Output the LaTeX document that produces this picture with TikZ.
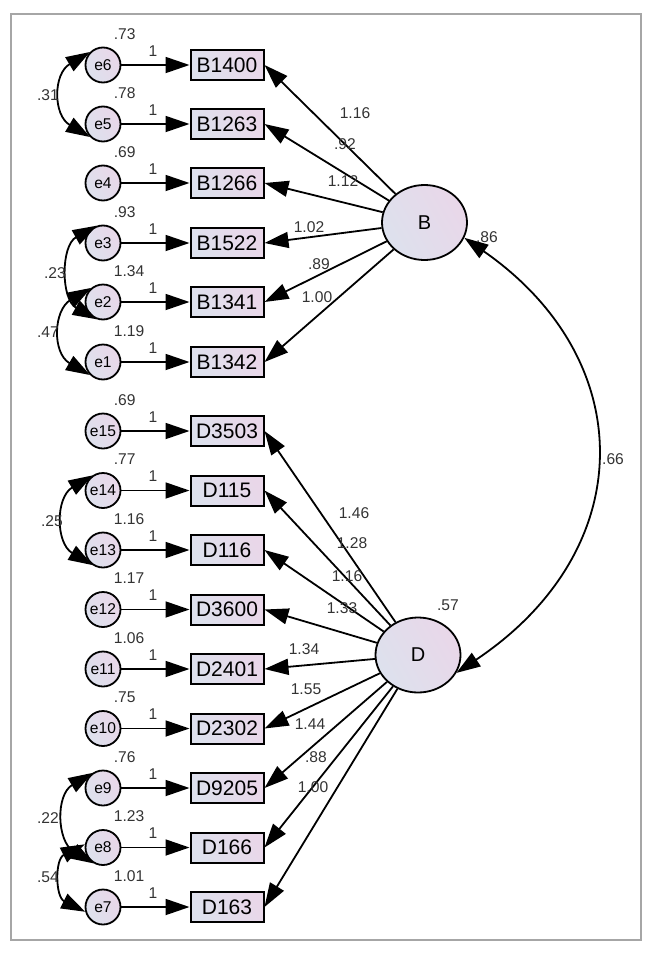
\documentclass[tikz,border=0pt]{standalone}
\usepackage{fontspec}
\setmainfont{Liberation Sans}
\usetikzlibrary{arrows.meta,shapes.geometric}
\definecolor{lavA}{RGB}{221,225,237}
\definecolor{lavB}{RGB}{233,215,233}

\begin{document}
\begin{tikzpicture}[x=0.5pt, y=0.5pt, line width=0.9pt, >={Triangle[length=12pt, width=8pt]},
	errc/.style={circle, draw, left color=lavA, right color=lavB, shading angle=120, minimum size=17.5pt, inner sep=0pt, font=\fontsize{7.8}{8}\selectfont},
	obs/.style={rectangle, draw, line width=1pt, left color=lavA, right color=lavB, shading angle=120, minimum width=36.5pt, minimum height=15pt, inner sep=1pt, font=\fontsize{10.5}{12}\selectfont},
	lat/.style={ellipse, draw, left color=lavA, right color=lavB, shading angle=120, minimum width=42.5pt, minimum height=37.5pt, inner sep=0pt, font=\fontsize{10}{12}\selectfont},
	est/.style={font=\fontsize{7.8}{9}\selectfont, text=black!80, inner sep=0pt}]
	\useasboundingbox (0,0) rectangle (653,-953);
	\draw[gray!70, line width=0.6pt] (11,-14) rectangle (641,-940);
	% latent factors
	\node[lat] (B) at (424.5,-222.5) {B};
	\node[lat] (D) at (418,-655) {D};
	% B block
	\node[errc] (e6) at (103,-65) {e6};
	\node[errc] (e5) at (103,-124) {e5};
	\node[errc] (e4) at (103,-183) {e4};
	\node[errc] (e3) at (103,-243) {e3};
	\node[errc] (e2) at (103,-302) {e2};
	\node[errc] (e1) at (103,-362) {e1};
	\node[obs] (b1400) at (227,-65) {B1400};
	\node[obs] (b1263) at (227,-124) {B1263};
	\node[obs] (b1266) at (227,-183) {B1266};
	\node[obs] (b1522) at (227,-243) {B1522};
	\node[obs] (b1341) at (227,-302) {B1341};
	\node[obs] (b1342) at (227,-362) {B1342};
	% D block
	\node[errc] (e15) at (103,-431) {e15};
	\node[errc] (e14) at (103,-490.5) {e14};
	\node[errc] (e13) at (103,-550) {e13};
	\node[errc] (e12) at (103,-609.5) {e12};
	\node[errc] (e11) at (103,-669) {e11};
	\node[errc] (e10) at (103,-728.5) {e10};
	\node[errc] (e9) at (103,-788) {e9};
	\node[errc] (e8) at (103,-847.5) {e8};
	\node[errc] (e7) at (103,-907) {e7};
	\node[obs] (d3503) at (227,-431) {D3503};
	\node[obs] (d115) at (227,-490.5) {D115};
	\node[obs] (d116) at (227,-550) {D116};
	\node[obs] (d3600) at (227,-609.5) {D3600};
	\node[obs] (d2401) at (227,-669) {D2401};
	\node[obs] (d2302) at (227,-728.5) {D2302};
	\node[obs] (d9205) at (227,-788) {D9205};
	\node[obs] (d166) at (227,-847.5) {D166};
	\node[obs] (d163) at (227,-907) {D163};
	% error paths
	\draw[->] (e6) -- (b1400);
	\draw[->] (e5) -- (b1263);
	\draw[->] (e4) -- (b1266);
	\draw[->] (e3) -- (b1522);
	\draw[->] (e2) -- (b1341);
	\draw[->] (e1) -- (b1342);
	\draw[->] (e15) -- (d3503);
	\draw[->] (e14) -- (d115);
	\draw[->] (e13) -- (d116);
	\draw[->] (e12) -- (d3600);
	\draw[->] (e11) -- (d2401);
	\draw[->] (e10) -- (d2302);
	\draw[->] (e9) -- (d9205);
	\draw[->] (e8) -- (d166);
	\draw[->] (e7) -- (d163);
	\node[est] (w6) at (153,-51) {1};
	\node[est] (w5) at (153,-110) {1};
	\node[est] (w4) at (153,-169) {1};
	\node[est] (w3) at (153,-229) {1};
	\node[est] (w2) at (153,-288) {1};
	\node[est] (w1) at (153,-348) {1};
	\node[est] (w15) at (153,-417) {1};
	\node[est] (w14) at (153,-476.5) {1};
	\node[est] (w13) at (153,-536) {1};
	\node[est] (w12) at (153,-595.5) {1};
	\node[est] (w11) at (153,-655) {1};
	\node[est] (w10) at (153,-714.5) {1};
	\node[est] (w9) at (153,-774) {1};
	\node[est] (w8) at (153,-833.5) {1};
	\node[est] (w7) at (153,-893) {1};
	% error variances
	\node[est, anchor=west] (v6) at (113,-34) {.73};
	\node[est, anchor=west] (v5) at (113,-93) {.78};
	\node[est, anchor=west] (v4) at (113,-152) {.69};
	\node[est, anchor=west] (v3) at (113,-212) {.93};
	\node[est, anchor=west] (v2) at (113,-271) {1.34};
	\node[est, anchor=west] (v1) at (113,-331) {1.19};
	\node[est, anchor=west] (v15) at (113,-400) {.69};
	\node[est, anchor=west] (v14) at (113,-459.5) {.77};
	\node[est, anchor=west] (v13) at (113,-519) {1.16};
	\node[est, anchor=west] (v12) at (113,-578.5) {1.17};
	\node[est, anchor=west] (v11) at (113,-638) {1.06};
	\node[est, anchor=west] (v10) at (113,-697.5) {.75};
	\node[est, anchor=west] (v9) at (113,-757) {.76};
	\node[est, anchor=west] (v8) at (113,-816.5) {1.23};
	\node[est, anchor=west] (v7) at (113,-876) {1.01};
	% loadings
	\draw[->] (B) -- (b1400.east);
	\draw[->] (B) -- (b1263.east);
	\draw[->] (B) -- (b1266.east);
	\draw[->] (B) -- (b1522.east);
	\draw[->] (B) -- (b1341.east);
	\draw[->] (B) -- (b1342.east);
	\draw[->] (D) -- (d3503.east);
	\draw[->] (D) -- (d115.east);
	\draw[->] (D) -- (d116.east);
	\draw[->] (D) -- (d3600.east);
	\draw[->] (D) -- (d2401.east);
	\draw[->] (D) -- (d2302.east);
	\draw[->] (D) -- (d9205.east);
	\draw[->] (D) -- (d166.east);
	\draw[->] (D) -- (d163.east);
	\node[est] (lb1400) at (355,-113) {1.16};
	\node[est] (lb1263) at (345,-144) {.92};
	\node[est] (lb1266) at (343,-181) {1.12};
	\node[est] (lb1522) at (309,-227) {1.02};
	\node[est] (lb1341) at (319,-264) {.89};
	\node[est] (lb1342) at (317,-297) {1.00};
	\node[est] (ld3503) at (354,-513) {1.46};
	\node[est] (ld115) at (352,-543) {1.28};
	\node[est] (ld116) at (347,-576) {1.16};
	\node[est] (ld3600) at (342,-608) {1.33};
	\node[est] (ld2401) at (304,-649) {1.34};
	\node[est] (ld2302) at (306,-689) {1.55};
	\node[est] (ld9205) at (310,-724) {1.44};
	\node[est] (ld166) at (316,-757) {.88};
	\node[est] (ld163) at (313,-787) {1.00};
	% covariances
	\draw[<->] (B.-21) .. controls (640,-360) and (640,-550) .. (D.-25);
	\node[est] (cBD) at (613,-459) {.66};
	\node[est] (vB) at (487,-237) {.86};
	\node[est] (vD) at (448,-605) {.57};
	\draw[<->] (e6.135) .. controls +(-37,-22) and +(-37,22) .. (e5.225);
	\draw[<->] (e3.110) .. controls +(-36,-20) and +(-36,20) .. (e2.250);
	\draw[<->] (e2.130) .. controls +(-38,-22) and +(-38,22) .. (e1.225);
	\draw[<->] (e14.125) .. controls +(-37,-22) and +(-37,22) .. (e13.235);
	\draw[<->] (e9.125) .. controls +(-37,-22) and +(-37,22) .. (e8.240);
	\draw[<->] (e8.170) .. controls +(-30,-15) and +(-30,15) .. (e7.195);
	\node[est] (c65) at (48,-95) {.31};
	\node[est] (c32) at (55,-273) {.23};
	\node[est] (c21) at (48,-332) {.47};
	\node[est] (c1413) at (52,-521) {.25};
	\node[est] (c98) at (48,-818) {.22};
	\node[est] (c87) at (48,-877) {.54};
\end{tikzpicture}
\end{document}
